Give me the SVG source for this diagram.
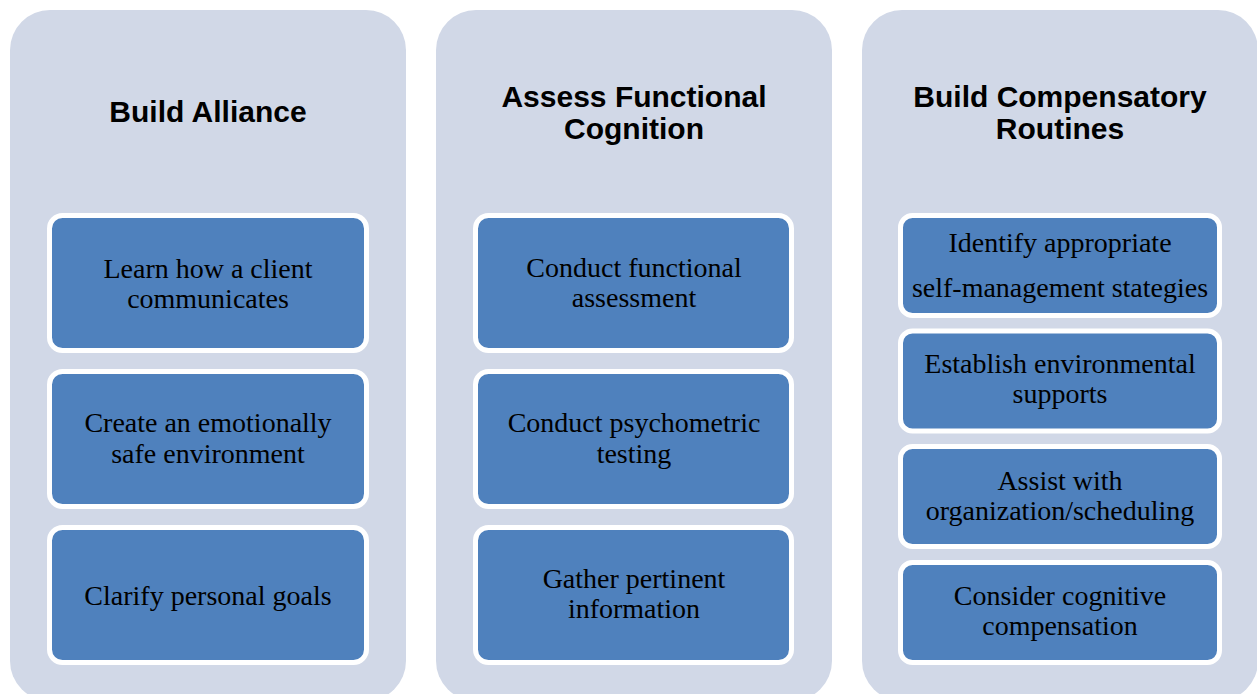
<svg xmlns="http://www.w3.org/2000/svg" width="1257" height="694" viewBox="0 0 1257 694">
<style>
.panel{fill:#D1D8E7}
.box{fill:#4F81BD;stroke:#FFFFFF;stroke-width:5}
.title{font-family:"Liberation Sans",Arial,sans-serif;font-weight:bold;font-size:30px;fill:#000;text-anchor:middle}
.t{font-family:"Liberation Serif","Times New Roman",serif;font-size:28px;fill:#000;text-anchor:middle}
</style>
<rect width="1257" height="694" fill="#FFFFFF"/>
<g id="panel-alliance">
<rect class="panel" x="10" y="10" width="396" height="691" rx="40"/>
<text class="title" x="208" y="122">Build Alliance</text>
</g>
<g id="panel-assess">
<rect class="panel" x="436" y="10" width="396" height="691" rx="40"/>
<text class="title" x="634" y="107">Assess Functional</text>
<text class="title" x="634" y="139">Cognition</text>
</g>
<g id="panel-routines">
<rect class="panel" x="862" y="10" width="396" height="691" rx="40"/>
<text class="title" x="1060" y="107">Build Compensatory</text>
<text class="title" x="1060" y="139">Routines</text>
</g>
<g id="connectors"></g>
<g id="a1"><rect class="box" x="49.5" y="215.5" width="317" height="135" rx="13"/>
<text class="t" x="208" y="278">Learn how a client</text><text class="t" x="208" y="308">communicates</text></g>
<g id="a2"><rect class="box" x="49.5" y="371.5" width="317" height="135" rx="13"/>
<text class="t" x="208" y="432">Create an emotionally</text><text class="t" x="208" y="463">safe environment</text></g>
<g id="a3"><rect class="box" x="49.5" y="527.5" width="317" height="135" rx="13"/>
<text class="t" x="208" y="605">Clarify personal goals</text></g>
<g id="b1"><rect class="box" x="475.5" y="215.5" width="316" height="135" rx="13"/>
<text class="t" x="634" y="277">Conduct functional</text><text class="t" x="634" y="307">assessment</text></g>
<g id="b2"><rect class="box" x="475.5" y="371.5" width="316" height="135" rx="13"/>
<text class="t" x="634" y="432">Conduct psychometric</text><text class="t" x="634" y="463">testing</text></g>
<g id="b3"><rect class="box" x="475.5" y="527.5" width="316" height="135" rx="13"/>
<text class="t" x="634" y="588">Gather pertinent</text><text class="t" x="634" y="618">information</text></g>
<g id="c1"><rect class="box" x="900.5" y="215.5" width="319" height="100" rx="12"/>
<text class="t" x="1060" y="252">Identify appropriate</text><text class="t" x="1060" y="297">self-management stategies</text></g>
<g id="c2"><rect class="box" x="900.5" y="331" width="319" height="100" rx="12"/>
<text class="t" x="1060" y="373">Establish environmental</text><text class="t" x="1060" y="403">supports</text></g>
<g id="c3"><rect class="box" x="900.5" y="446.5" width="319" height="100" rx="12"/>
<text class="t" x="1060" y="490">Assist with</text><text class="t" x="1060" y="520">organization/scheduling</text></g>
<g id="c4"><rect class="box" x="900.5" y="562.5" width="319" height="100" rx="12"/>
<text class="t" x="1060" y="605">Consider cognitive</text><text class="t" x="1060" y="635">compensation</text></g>
</svg>
